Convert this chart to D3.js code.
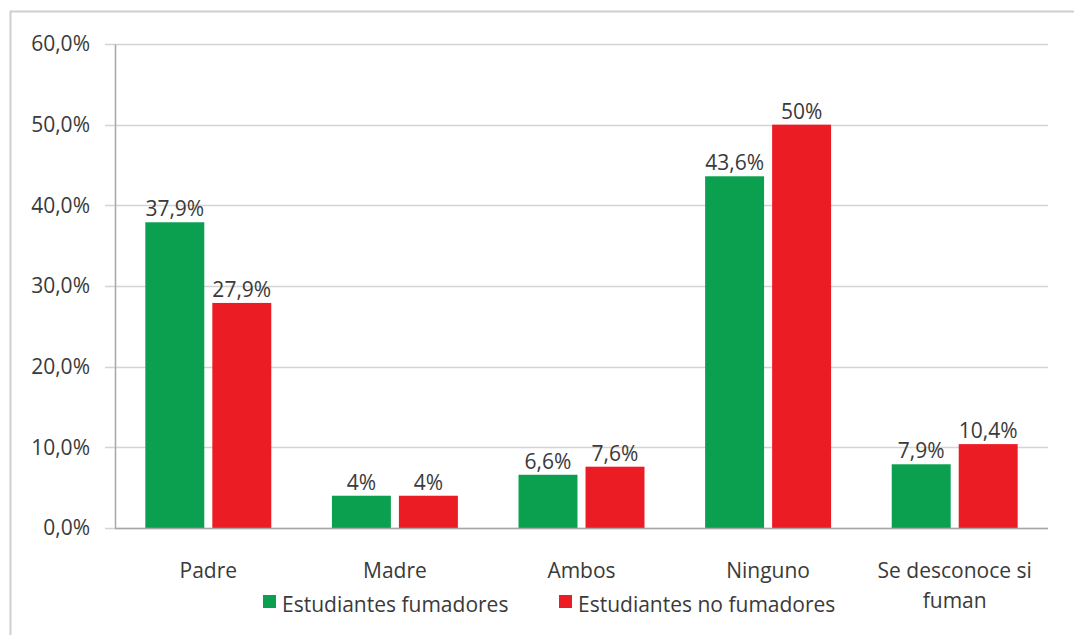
<!DOCTYPE html>
<html><head><meta charset="utf-8">
<script src="https://cdn.jsdelivr.net/npm/d3@7"></script>
<style>body{margin:0;background:#fff;}svg{display:block;}</style>
</head><body>
<svg id="c" width="1074" height="635"></svg>
<script>
const categories = ["Padre", "Madre", "Ambos", "Ninguno", "Se desconoce si fuman"];
const seriesNames = ["Estudiantes fumadores", "Estudiantes no fumadores"];
const fumadores = [37.9, 4, 6.6, 43.6, 7.9];
const noFumadores = [27.9, 4, 7.6, 50, 10.4];
const fumadoresLabels = ["37,9%", "4%", "6,6%", "43,6%", "7,9%"];
const noFumadoresLabels = ["27,9%", "4%", "7,6%", "50%", "10,4%"];
const yTicks = [0, 10, 20, 30, 40, 50, 60];
const yTickLabels = ["0,0%", "10,0%", "20,0%", "30,0%", "40,0%", "50,0%", "60,0%"];
const colors = ["#0aa04f", "#ec1c24"];

(function() {
const svg = d3.select("#c");
const font = "'Open Sans', sans-serif";
const fs = 21;
const textColor = "#3a3a3a";

// outer border
svg.append("rect").attr("x", 10.5).attr("y", 11.5).attr("width", 1100).attr("height", 700)
  .attr("fill", "none").attr("stroke", "#cfcfcf").attr("stroke-width", 2);

const mLeft = 115, mRight = 1048, mTop = 44, mBottom = 528;
const x0 = d3.scaleBand().domain(categories).range([mLeft, mRight]).paddingInner(0.325).paddingOuter(0.1625);
const x1 = d3.scaleBand().domain(seriesNames).range([0, x0.bandwidth()]).paddingInner(0.12).paddingOuter(0);
const y = d3.scaleLinear().domain([0, 60]).range([mBottom, mTop]);

// gridlines
svg.append("g").selectAll("line").data(yTicks).join("line")
  .attr("x1", mLeft - 10).attr("x2", mRight)
  .attr("y1", d => Math.round(y(d)) + 0.5).attr("y2", d => Math.round(y(d)) + 0.5)
  .attr("stroke", "#d4d4d4").attr("stroke-width", 1.5);

// y axis
const yAxis = d3.axisLeft(y).tickValues(yTicks).tickFormat((d, i) => yTickLabels[i]).tickSize(0).tickPadding(25);
const gy = svg.append("g").attr("transform", `translate(${mLeft},0)`).call(yAxis);
gy.select(".domain").attr("stroke", "#a6a6a6").attr("stroke-width", 1.5);
gy.selectAll("text").attr("font-family", font).attr("font-size", fs).attr("fill", textColor);

// bars
const data = categories.map((c, i) => ({c, vals: [fumadores[i], noFumadores[i]], labs: [fumadoresLabels[i], noFumadoresLabels[i]]}));
const groups = svg.append("g").selectAll("g").data(data).join("g")
  .attr("transform", d => `translate(${x0(d.c)},0)`);
groups.selectAll("rect").data(d => d.vals.map((v, j) => ({s: seriesNames[j], v, j}))).join("rect")
  .attr("x", d => x1(d.s)).attr("width", x1.bandwidth())
  .attr("y", d => y(d.v)).attr("height", d => y(0) - y(d.v))
  .attr("fill", d => colors[d.j]);
groups.selectAll("text").data(d => d.vals.map((v, j) => ({s: seriesNames[j], v, j, l: d.labs[j]}))).join("text")
  .attr("x", d => x1(d.s) + x1.bandwidth() / 2).attr("y", d => y(d.v) - 6)
  .attr("text-anchor", "middle").attr("font-family", font).attr("font-size", fs).attr("fill", textColor)
  .text(d => d.l);

// bottom axis line
svg.append("line").attr("x1", mLeft).attr("x2", mRight).attr("y1", mBottom + 0.5).attr("y2", mBottom + 0.5)
  .attr("stroke", "#a6a6a6").attr("stroke-width", 1.5);

// x axis labels
const xAxis = d3.axisBottom(x0).tickSize(0).tickPadding(0).tickFormat("");
const gx = svg.append("g").attr("transform", `translate(0,${mBottom})`).call(xAxis);
gx.select(".domain").remove();
const wrapLabels = {"Se desconoce si fuman": ["Se desconoce si", "fuman"]};
gx.selectAll(".tick").each(function(d) {
  const lines = wrapLabels[d] || [d];
  const t = d3.select(this).append("text").attr("text-anchor", "middle")
    .attr("font-family", font).attr("font-size", fs).attr("fill", textColor);
  lines.forEach((ln, k) => t.append("tspan").attr("x", 0).attr("y", 50 + k * 30).text(ln));
});

// legend
const legendX = [263, 559];
const lg = svg.append("g").selectAll("g").data(seriesNames).join("g")
  .attr("transform", (d, i) => `translate(${legendX[i]},595)`);
lg.append("rect").attr("width", 13).attr("height", 13).attr("fill", (d, i) => colors[i]);
lg.append("text").attr("x", 19).attr("y", 17).attr("font-family", font).attr("font-size", fs)
  .attr("fill", textColor).text(d => d);
})();
</script>
</body></html>
